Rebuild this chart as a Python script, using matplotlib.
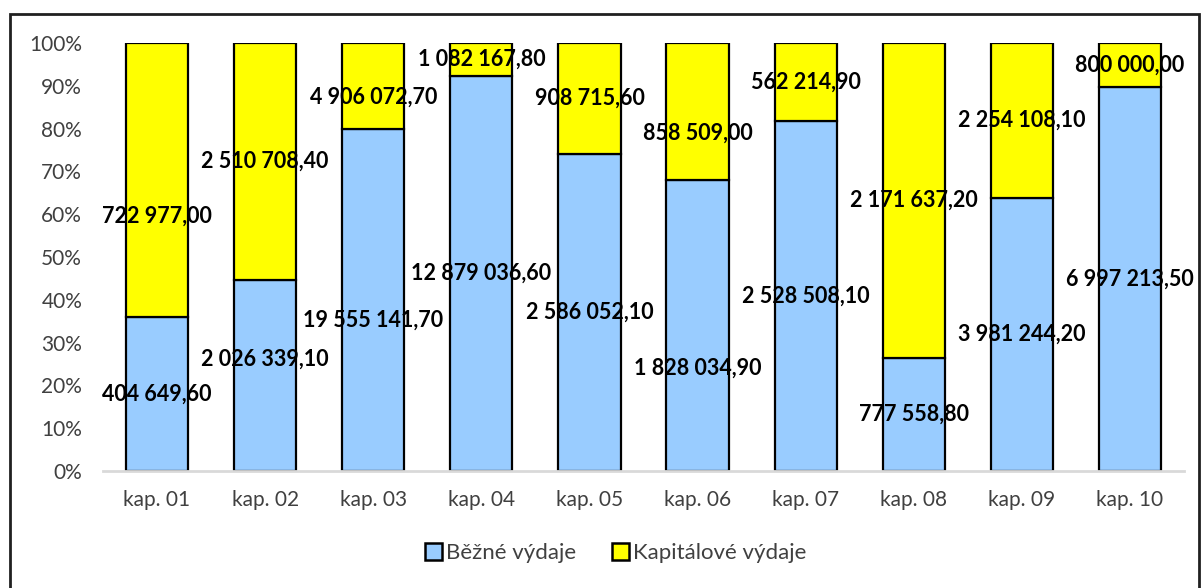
import numpy as np
import matplotlib.pyplot as plt
from matplotlib.patches import Rectangle
from matplotlib.ticker import PercentFormatter

categories = ['kap. 01', 'kap. 02', 'kap. 03', 'kap. 04', 'kap. 05',
              'kap. 06', 'kap. 07', 'kap. 08', 'kap. 09', 'kap. 10']
bezne = [404649.60, 2026339.10, 19555141.70, 12879036.60, 2586052.10,
         1828034.90, 2528508.10, 777558.80, 3981244.20, 6997213.50]
kapitalove = [722977.00, 2510708.40, 4906072.70, 1082167.80, 908715.60,
              858509.00, 562214.90, 2171637.20, 2254108.10, 800000.00]
series_names = ['Běžné výdaje', 'Kapitálové výdaje']

# manual nudges of the data labels (percentage points), as in the original
bez_shift = [0, 3.7, -4.7, 0, 0, -10, 0, 0, 0, 0]
kap_shift = [-8.4, 0, -2.6, 0, 0, -5, 0, 0, 0, 0]


def fmt(v):
    s = f'{v:,.2f}'
    return s.replace(',', ' ').replace('.', ',')


plt.rcParams['font.family'] = ['Lato', 'DejaVu Sans']

b = np.array(bezne)
k = np.array(kapitalove)
tot = b + k
pb = b / tot * 100
pk = k / tot * 100

fig = plt.figure(figsize=(12.03, 5.88), dpi=100)
ax = fig.add_axes([103 / 1203, 1 - 471 / 588, (1184 - 103) / 1203, (471 - 43) / 588])

x = np.arange(len(categories))
ax.bar(x, pb, width=0.575, color='#99ccff', edgecolor='black', linewidth=1.6,
       label=series_names[0])
ax.bar(x, pk, bottom=pb, width=0.575, color='#ffff00', edgecolor='black',
       linewidth=1.6, label=series_names[1])

for i in range(len(categories)):
    ax.text(x[i], pb[i] / 2 + bez_shift[i], fmt(bezne[i]), ha='center',
            va='center', fontsize=15.5, fontweight='bold', color='black')
    ax.text(x[i], pb[i] + pk[i] / 2 + kap_shift[i], fmt(kapitalove[i]),
            ha='center', va='center', fontsize=15.5, fontweight='bold',
            color='black')

ax.set_xlim(-0.5, len(categories) - 0.5)
ax.set_ylim(0, 100)
ax.set_yticks(np.arange(0, 101, 10))
ax.yaxis.set_major_formatter(PercentFormatter(decimals=0))
ax.set_xticks(x)
ax.set_xticklabels(categories)
ax.tick_params(axis='both', length=0, labelsize=15, colors='#404040')
ax.tick_params(axis='x', pad=14)
ax.tick_params(axis='y', pad=15)
for s in ['top', 'right', 'left']:
    ax.spines[s].set_visible(False)
ax.spines['bottom'].set_color('#d9d9d9')
ax.spines['bottom'].set_linewidth(2)

leg = fig.legend(loc='center', bbox_to_anchor=(616 / 1203, 1 - 553 / 588),
                 ncol=2, frameon=False, fontsize=16, handlelength=0.75,
                 handleheight=0.85, handletextpad=0.2, columnspacing=1.6)
for t in leg.get_texts():
    t.set_color('#404040')
for h in leg.legend_handles:
    h.set_linewidth(1.8)

fig.patches.append(Rectangle((10 / 1203, -0.05), 1189 / 1203, 1.05 - 14 / 588,
                             transform=fig.transFigure, fill=False,
                             edgecolor='#202020', linewidth=2))

fig.savefig('out.png', dpi=100)
